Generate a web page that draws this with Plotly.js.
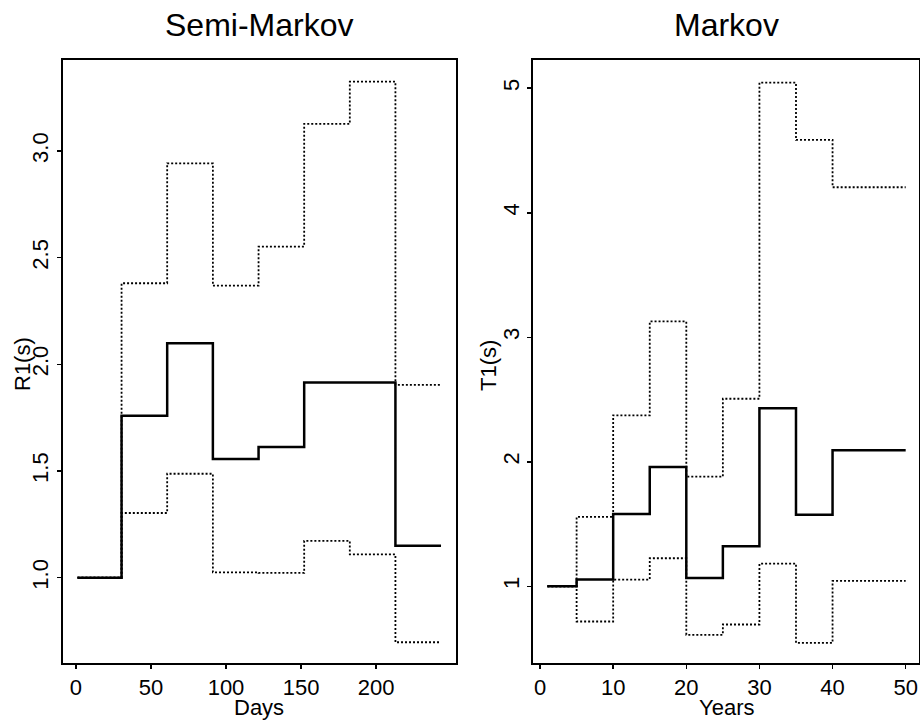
<!DOCTYPE html>
<html>
<head>
<meta charset="utf-8">
<script src="https://cdn.plot.ly/plotly-3.0.1.min.js"></script>
<style>html,body{margin:0;padding:0;background:#fff;}#chart{width:920px;height:721px;}</style>
</head>
<body>
<div id="chart"></div>
<script>
// Semi-Markov panel (Days)
var daysX = [1, 30.4, 60.8, 91.25, 121.7, 152.1, 182.5, 212.9, 243.3];
var semiMedian = [1.0, 1.759, 2.099, 1.556, 1.612, 1.915, 1.915, 1.150];
var semiUpper  = [1.0, 2.380, 2.942, 2.369, 2.552, 3.127, 3.325, 1.904];
var semiLower  = [1.0, 1.303, 1.487, 1.025, 1.022, 1.172, 1.109, 0.697];

// Markov panel (Years)
var yearsX = [1, 5, 10, 15, 20, 25, 30, 35, 40, 50];
var markMedian = [1.0, 1.054, 1.581, 1.958, 1.067, 1.321, 2.429, 1.575, 2.092];
var markUpper  = [1.0, 1.557, 2.373, 3.127, 1.880, 2.506, 5.045, 4.585, 4.205];
var markLower  = [1.0, 0.717, 1.054, 1.225, 0.610, 0.693, 1.182, 0.546, 1.043];

var leftXTicks = [0, 50, 100, 150, 200];
var leftYTicks = [1.0, 1.5, 2.0, 2.5, 3.0];
var rightXTicks = [0, 10, 20, 30, 40, 50];
var rightYTicks = [1, 2, 3, 4, 5];

function stepY(vals) { return vals.concat([vals[vals.length - 1]]); }

var FONT = 'Liberation Sans, Arial, Helvetica, sans-serif';
var solid = {color: '#000', width: 2.5, shape: 'hv'};
var dotted = {color: '#000', width: 1.8, shape: 'hv', dash: '2px,2px'};

var traces = [
  {x: daysX, y: stepY(semiUpper), mode: 'lines', line: dotted, xaxis: 'x', yaxis: 'y', hoverinfo: 'skip'},
  {x: daysX, y: stepY(semiLower), mode: 'lines', line: dotted, xaxis: 'x', yaxis: 'y', hoverinfo: 'skip'},
  {x: daysX, y: stepY(semiMedian), mode: 'lines', line: solid, xaxis: 'x', yaxis: 'y', hoverinfo: 'skip'},
  {x: yearsX, y: stepY(markUpper), mode: 'lines', line: dotted, xaxis: 'x2', yaxis: 'y2', hoverinfo: 'skip'},
  {x: yearsX, y: stepY(markLower), mode: 'lines', line: dotted, xaxis: 'x2', yaxis: 'y2', hoverinfo: 'skip'},
  {x: yearsX, y: stepY(markMedian), mode: 'lines', line: solid, xaxis: 'x2', yaxis: 'y2', hoverinfo: 'skip'}
];

var axCommon = {
  showline: true, linecolor: '#000', linewidth: 2, mirror: true,
  showgrid: false, zeroline: false,
  ticks: 'outside', ticklen: 4, tickwidth: 1.5, tickcolor: '#000',
  tickfont: {family: FONT, size: 22, color: '#000'}
};

function ax(extra) { return Object.assign({}, axCommon, extra); }

function label(text, x, y, angle) {
  return {text: text, xref: 'paper', yref: 'paper', x: x / 920, y: 1 - y / 721,
    xanchor: 'center', yanchor: 'middle', textangle: angle, showarrow: false,
    font: {family: FONT, size: 22, color: '#000'}};
}

var layout = {
  width: 920, height: 721,
  margin: {l: 0, r: 0, t: 0, b: 0},
  paper_bgcolor: '#fff', plot_bgcolor: '#fff',
  showlegend: false,
  font: {family: FONT, color: '#000'},
  xaxis: ax({domain: [0.0682, 0.4957], range: [-8.8, 253.3], tickvals: leftXTicks, anchor: 'y'}),
  yaxis: ax({domain: [0.0805, 0.9168], range: [0.600, 3.4265], tickvals: leftYTicks, tickformat: '.1f', tickangle: -90, anchor: 'x'}),
  xaxis2: ax({domain: [0.5797, 0.9989], range: [-0.92, 51.82], tickvals: rightXTicks, anchor: 'y2'}),
  yaxis2: ax({domain: [0.0805, 0.9168], range: [0.384, 5.227], tickvals: rightYTicks, tickangle: -90, anchor: 'x2'}),
  annotations: [
    {text: 'Semi-Markov', xref: 'paper', yref: 'paper', x: 0.2820, y: 1 - 25/721, xanchor: 'center', yanchor: 'middle',
     showarrow: false, font: {family: FONT, size: 32, color: '#000'}},
    {text: 'Markov', xref: 'paper', yref: 'paper', x: 0.7900, y: 1 - 25/721, xanchor: 'center', yanchor: 'middle',
     showarrow: false, font: {family: FONT, size: 32, color: '#000'}},
    label('Days', 259, 707, 0),
    label('Years', 726, 707, 0),
    label('R1(s)', 22, 364, -90),
    label('T1(s)', 488, 366, -90)
  ]
};

Plotly.newPlot('chart', traces, layout, {staticPlot: true, displayModeBar: false});
</script>
</body>
</html>
